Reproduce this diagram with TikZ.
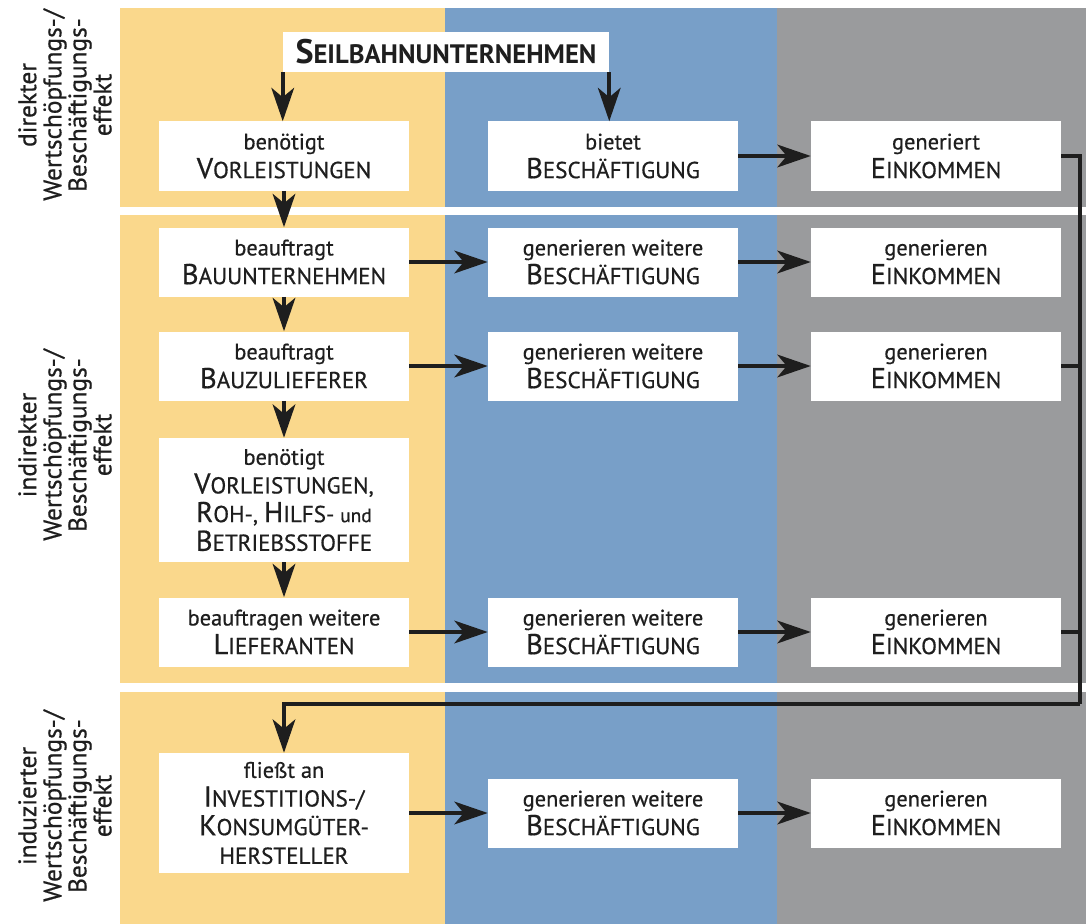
\documentclass[tikz,border=0pt]{standalone}
\usepackage{fontspec}
\setmainfont{PT Sans}[FakeBold=0.6,BoldFont=PT Sans Bold,BoldFeatures={FakeBold=0}]
\usetikzlibrary{arrows.meta}
\definecolor{colY}{HTML}{FAD88C}
\definecolor{colB}{HTML}{789FC8}
\definecolor{colG}{HTML}{9A9B9D}
\definecolor{txt}{HTML}{1E1E1E}
\newcommand\kap[2]{{\fontsize{21.5}{21.5}\selectfont #1}{\fontsize{17.3}{21.5}\selectfont #2}}
\newcommand\klein[1]{{\fontsize{17.3}{21.5}\selectfont #1}}
\tikzset{
  box/.style={fill=white, minimum width=187.5pt, minimum height=51.75pt, inner sep=0pt,
    align=center, text=txt, font=\fontsize{16.8}{21.5}\selectfont},
  sidelabel/.style={rotate=90, align=center, text=txt, font=\fontsize{19}{18.8}\selectfont, inner sep=0pt},
  arr/.style={draw=txt, line width=3pt, -{Stealth[length=25pt,width=17pt,inset=7pt]}},
  fb/.style={draw=txt, line width=2.6pt, line join=miter},
}
\begin{document}
\begin{tikzpicture}[x=0.75pt,y=-0.75pt]
\useasboundingbox (0,0) rectangle (1086,924);
% columns
\fill[colY] (120,8) rectangle (445,924);
\fill[colB] (445,8) rectangle (777,924);
\fill[colG] (777,8) rectangle (1086,924);
% white separators
\fill[white] (120,207) rectangle (1086,215);
\fill[white] (120,683) rectangle (1086,692);
% side labels
\node[sidelabel] (L1) at (65,105) {direkter\\Wertschöpfungs-/\\Beschäftigungs-\\effekt};
\node[sidelabel] (L2) at (65,445) {indirekter\\Wertschöpfungs-/\\Beschäftigungs-\\effekt};
\node[sidelabel] (L3) at (65,806) {induzierter\\Wertschöpfungs-/\\Beschäftigungs-\\effekt};
% top box
\node[box, minimum width=244.5pt, minimum height=30pt, font=\bfseries\fontsize{20}{24}\selectfont] (S) at (446,52)
  {{\fontsize{25.5}{24}\selectfont S}EILBAHNUNTERNEHMEN};
% row 1
\node[box] (y1) at (284,156) {benötigt\\\kap{V}{ORLEISTUNGEN}};
\node[box] (b1) at (613,156) {bietet\\\kap{B}{ESCHÄFTIGUNG}};
\node[box] (g1) at (936,156) {generiert\\\kap{E}{INKOMMEN}};
% row 2
\node[box] (y2) at (284,262) {beauftragt\\\kap{B}{AUUNTERNEHMEN}};
\node[box] (b2) at (613,262) {generieren weitere\\\kap{B}{ESCHÄFTIGUNG}};
\node[box] (g2) at (936,262) {generieren\\\kap{E}{INKOMMEN}};
% row 3
\node[box] (y3) at (284,366) {beauftragt\\\kap{B}{AUZULIEFERER}};
\node[box] (b3) at (613,366) {generieren weitere\\\kap{B}{ESCHÄFTIGUNG}};
\node[box] (g3) at (936,366) {generieren\\\kap{E}{INKOMMEN}};
% row 4
\node[box, minimum height=93pt] (y4) at (284,500)
  {benötigt\\\kap{V}{ORLEISTUNGEN,}\\\kap{R}{OH-}, \kap{H}{ILFS-} {\fontsize{14.5}{21.5}\selectfont und}\\\kap{B}{ETRIEBSSTOFFE}};
% row 5
\node[box] (y5) at (284,632) {beauftragen weitere\\\kap{L}{IEFERANTEN}};
\node[box] (b5) at (613,632) {generieren weitere\\\kap{B}{ESCHÄFTIGUNG}};
\node[box] (g5) at (936,632) {generieren\\\kap{E}{INKOMMEN}};
% row 6
\node[box, minimum height=90pt] (y6) at (284,813)
  {fließt an\\\kap{I}{NVESTITIONS-/}\\\kap{K}{ONSUMGÜTER-}\\\klein{HERSTELLER}};
\node[box] (b6) at (613,813) {generieren weitere\\\kap{B}{ESCHÄFTIGUNG}};
\node[box] (g6) at (936,813) {generieren\\\kap{E}{INKOMMEN}};
% arrows from top
\draw[arr] (S.south west) -- (S.south west |- y1.north);
\draw[arr] (S.south east) -- (S.south east |- b1.north);
% vertical chain
\draw[arr] (y1) -- (y2);
\draw[arr] (y2) -- (y3);
\draw[arr] (y3) -- (y4);
\draw[arr] (y4) -- (y5);
% horizontal arrows
\draw[arr] (b1) -- (g1);
\draw[arr] (y2) -- (b2);
\draw[arr] (b2) -- (g2);
\draw[arr] (y3) -- (b3);
\draw[arr] (b3) -- (g3);
\draw[arr] (y5) -- (b5);
\draw[arr] (b5) -- (g5);
\draw[arr] (y6) -- (b6);
\draw[arr] (b6) -- (g6);
% feedback loop
\coordinate (R) at (1080,704);
\draw[fb] (g1.east) -| (R);
\draw[fb] (g3.east) -- (g3.east -| R);
\draw[fb] (g5.east) -- (g5.east -| R);
\draw[fb, -{Stealth[length=25pt,width=17pt,inset=7pt]}] (R) -- (R -| y6) -- (y6.north);
\end{tikzpicture}
\end{document}
